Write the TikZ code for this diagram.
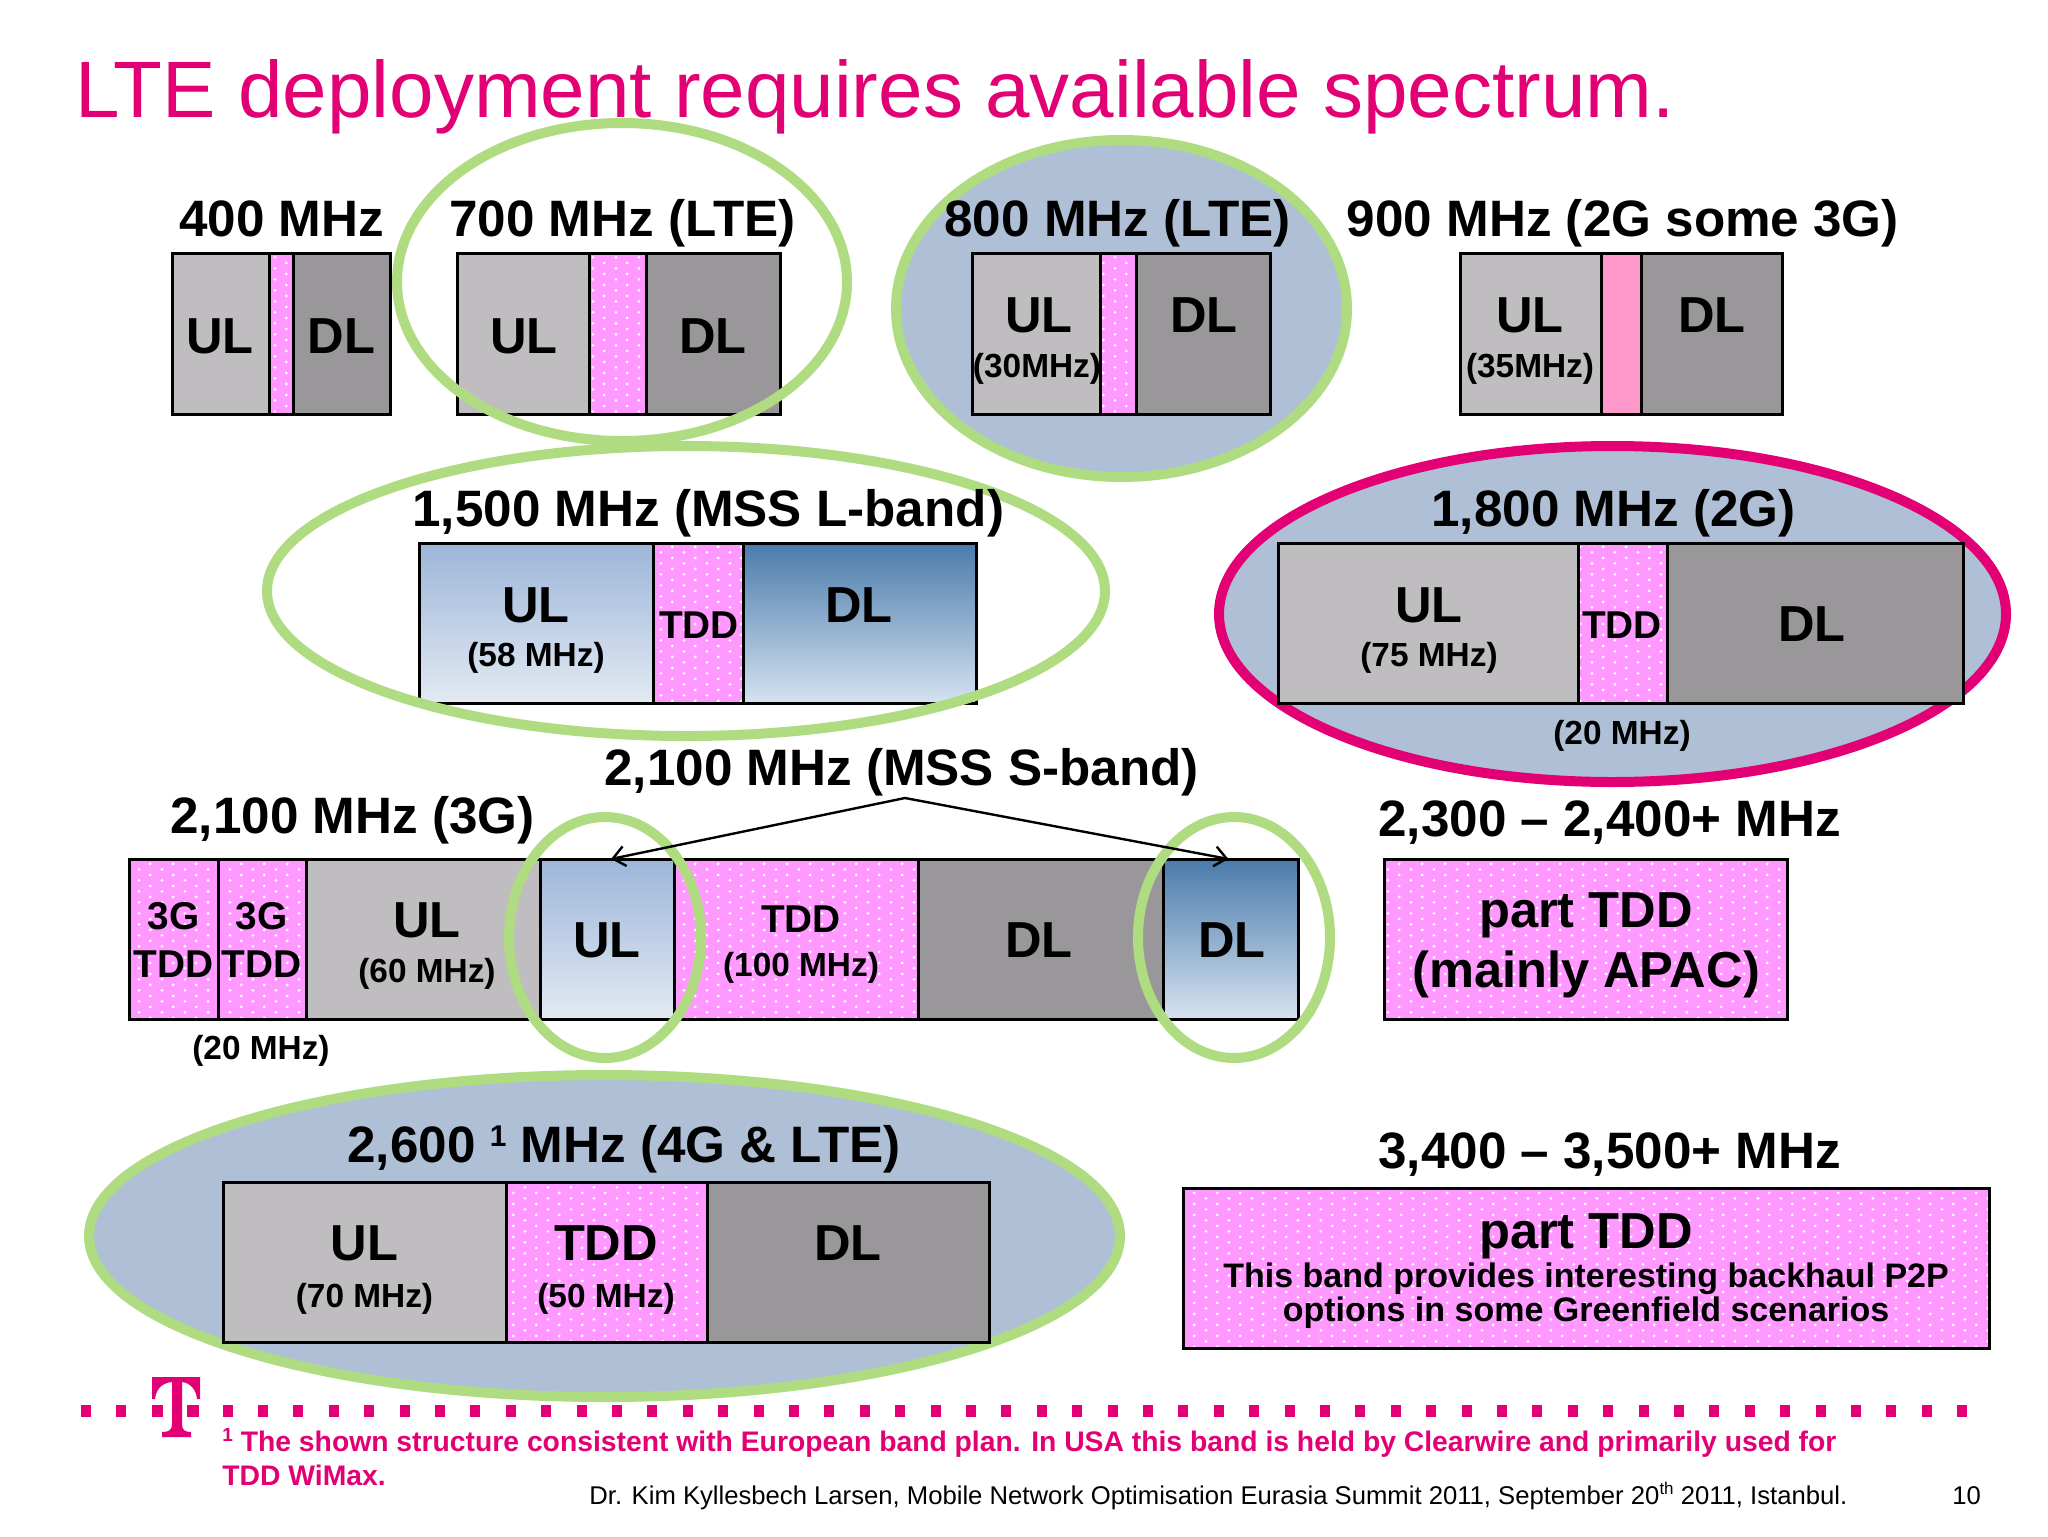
\documentclass[tikz,border=0pt]{standalone}
\usepackage{fontspec}
\setmainfont{Liberation Sans}
\usetikzlibrary{shapes.geometric,patterns,arrows.meta}
\definecolor{tmag}{HTML}{E20074}
\definecolor{ulgray}{HTML}{BFBDBF}
\definecolor{dlgray}{HTML}{999799}
\definecolor{tddpink}{HTML}{FF99FF}
\definecolor{gappink}{HTML}{FF99CC}
\definecolor{ringgreen}{HTML}{AFDC80}
\definecolor{ovalblue}{HTML}{AFBFD6}
\pgfdeclarepatternformonly{tdots}{\pgfqpoint{0pt}{0pt}}{\pgfqpoint{11.35pt}{5.67pt}}{\pgfqpoint{11.35pt}{5.67pt}}{%
  \pgfpathcircle{\pgfqpoint{1.5pt}{1.4pt}}{0.8pt}%
  \pgfpathcircle{\pgfqpoint{7.175pt}{4.235pt}}{0.8pt}%
  \pgfusepath{fill}}
\tikzset{
  seg/.style={shape=rectangle,inner sep=0pt,outer sep=0pt,draw=black,line width=1.5pt},
  ulb/.style={seg,fill=ulgray},
  dlb/.style={seg,fill=dlgray},
  tddb/.style={seg,fill=tddpink,postaction={pattern=tdots,pattern color=white},postaction={draw=black,line width=1.5pt}},
  gapb/.style={seg,fill=gappink},
  blueul/.style={seg,top color=blueA,bottom color=blueB},
  bluedl/.style={seg,top color=blueC,middle color=blueD,bottom color=blueE},
  ring/.style={shape=ellipse,inner sep=0pt,outer sep=0pt,draw=ringgreen,line width=5pt},
  oval/.style={ring,fill=ovalblue},
  magoval/.style={ring,draw=tmag,fill=ovalblue},
  head/.style={anchor=base west,inner sep=0pt,font=\bfseries\fontsize{25.6}{25.6}\selectfont},
  big/.style={anchor=base,inner sep=0pt,font=\bfseries\fontsize{25.3}{25.3}\selectfont},
  mid/.style={anchor=base,inner sep=0pt,font=\bfseries\fontsize{19.4}{19.4}\selectfont},
  small/.style={anchor=base,inner sep=0pt,font=\bfseries\fontsize{16.7}{16.7}\selectfont},
  para/.style={anchor=base,inner sep=0pt,font=\bfseries\fontsize{17}{17}\selectfont},
  note/.style={anchor=base west,inner sep=0pt,text=tmag,font=\bfseries\fontsize{14.15}{14.15}\selectfont},
  foot/.style={anchor=base west,inner sep=0pt,font=\fontsize{12.83}{12.83}\selectfont},
  arr/.style={-{Straight Barb[length=6pt,width=10pt]},line width=1.2pt}
}
\definecolor{blueA}{HTML}{9DB6D9}
\definecolor{blueB}{HTML}{E2EAF3}
\definecolor{blueC}{HTML}{4A7BAB}
\definecolor{blueD}{HTML}{A6BEDB}
\definecolor{blueE}{HTML}{D6E2F0}
% name, x1, y1, x2, y2, style
\newcommand\shapebox[6]{\node[#6,minimum width={(#4-#2)*0.5pt},minimum height={(#5-#3)*0.5pt}] (#1) at ({(#2+#4)/2},{(#3+#5)/2}) {};}
\begin{document}
\begin{tikzpicture}[x=0.5pt,y=-0.5pt]
\useasboundingbox (0,0) rectangle (2048,1536);
\fill[white] (0,0) rectangle (2048,1536);
% filled ovals behind the bands
\shapebox{o800}{896}{140}{1347}{477}{oval}
\shapebox{o1800}{1219}{446}{2006}{782}{magoval}
\shapebox{o2600}{89}{1075}{1120}{1397}{oval}
% 400
\shapebox{a1}{172}{253}{269}{414}{ulb}
\shapebox{a2}{269}{253}{293}{414}{tddb}
\shapebox{a3}{293}{253}{390}{414}{dlb}
% 700
\shapebox{b1}{457}{253}{589}{414}{ulb}
\shapebox{b2}{589}{253}{646}{414}{tddb}
\shapebox{b3}{646}{253}{780}{414}{dlb}
% 800
\shapebox{c1}{972}{253}{1100}{414}{ulb}
\shapebox{c2}{1100}{253}{1136}{414}{tddb}
\shapebox{c3}{1136}{253}{1270}{414}{dlb}
% 900
\shapebox{d1}{1460}{253}{1601}{414}{ulb}
\shapebox{d2}{1601}{253}{1641}{414}{gapb}
\shapebox{d3}{1641}{253}{1782}{414}{dlb}
% 1500
\shapebox{e1}{419}{543}{653}{703}{blueul}
\shapebox{e2}{653}{543}{743}{703}{tddb}
\shapebox{e3}{743}{543}{976}{703}{bluedl}
% 1800
\shapebox{f1}{1278}{543}{1578}{703}{ulb}
\shapebox{f2}{1578}{543}{1667}{703}{tddb}
\shapebox{f3}{1667}{543}{1963}{703}{dlb}
% 2100
\shapebox{g1}{129}{859}{218}{1019}{tddb}
\shapebox{g2}{218}{859}{306}{1019}{tddb}
\shapebox{g3}{306}{859}{540}{1019}{ulb}
\shapebox{g4}{540}{859}{674}{1019}{blueul}
\shapebox{g5}{674}{859}{918}{1019}{tddb}
\shapebox{g6}{918}{859}{1163}{1019}{dlb}
\shapebox{g7}{1163}{859}{1298}{1019}{bluedl}
% 2300
\shapebox{h1}{1384}{859}{1787}{1019}{tddb}
% 2600
\shapebox{i1}{223}{1182}{506}{1342}{ulb}
\shapebox{i2}{506}{1182}{707}{1342}{tddb}
\shapebox{i3}{707}{1182}{989}{1342}{dlb}
% 3400
\shapebox{j1}{1183}{1188}{1989}{1348}{tddb}
% outline rings over the bands
\shapebox{r700}{397}{123}{847}{441}{ring}
\shapebox{r1500}{267}{446}{1105}{736}{ring}
\shapebox{rul}{509}{817}{701}{1058}{ring}
\shapebox{rdl}{1138}{817}{1330}{1058}{ring}
% connector
\coordinate (apex) at (905,798);
\draw[arr] (apex) -- ([xshift=2pt]g4.north);
\draw[arr] (apex) -- ([xshift=-1pt]g7.north);
% title
\node[anchor=base west,inner sep=0pt,text=tmag,font=\fontsize{40}{40}\selectfont] (title) at (75,118) {LTE deployment requires available spectrum.};
% headings
\node[head] (t400) at (179,236.5) {400 MHz};
\node[head] (t700) at (449,236.5) {700 MHz (LTE)};
\node[head] (t800) at (944,236.5) {800 MHz (LTE)};
\node[head] (t900) at (1346.5,236.5) {900 MHz (2G some 3G)};
\node[head] (t1500) at (412,526) {1,500 MHz (MSS L-band)};
\node[head] (t1800) at (1431,526) {1,800 MHz (2G)};
\node[head] (t21a) at (604,785) {2,100 MHz (MSS S-band)};
\node[head] (t21b) at (170,833) {2,100 MHz (3G)};
\node[head] (t23) at (1378,836.5) {2,300 – 2,400+ MHz};
\node[head] (t34) at (1378,1168.5) {3,400 – 3,500+ MHz};
\node[head] (t26) at (347,1162) {2,600 \raisebox{2.7mm}{\bfseries\fontsize{15}{15}\selectfont 1} MHz (4G \& LTE)};
% band labels
\node[big] (la1) at (220,353) {UL};
\node[big] (la3) at (341.5,353) {DL};
\node[big] (lb1) at (524,353) {UL};
\node[big] (lb3) at (713,353) {DL};
\node[big] (lc1) at (1039,332) {UL};
\node[small] (lc1s) at (1037,377) {(30MHz)};
\node[big] (lc3) at (1204,332) {DL};
\node[big] (ld1) at (1530,332) {UL};
\node[small] (ld1s) at (1530,377) {(35MHz)};
\node[big] (ld3) at (1712,332) {DL};
\node[big] (le1) at (536,622) {UL};
\node[small] (le1s) at (536,666) {(58 MHz)};
\node[mid] (le2) at (699,638) {TDD};
\node[big] (le3) at (859,622) {DL};
\node[big] (lf1) at (1429,622) {UL};
\node[small] (lf1s) at (1429,666) {(75 MHz)};
\node[mid] (lf2) at (1622,638) {TDD};
\node[big] (lf3) at (1812,641.5) {DL};
\node[small] (lf2s) at (1622,744) {(20 MHz)};
\node[mid] (lg1a) at (173.5,929.5) {3G};
\node[mid] (lg1b) at (173.5,977.5) {TDD};
\node[mid] (lg2a) at (261.5,929.5) {3G};
\node[mid] (lg2b) at (261.5,977.5) {TDD};
\node[small] (lg2s) at (261,1059) {(20 MHz)};
\node[big] (lg3) at (427,937) {UL};
\node[small] (lg3s) at (427,982) {(60 MHz)};
\node[big] (lg4) at (607,957.5) {UL};
\node[mid] (lg5) at (801,932) {TDD};
\node[small] (lg5s) at (801,976) {(100 MHz)};
\node[big] (lg6) at (1039,957.5) {DL};
\node[big] (lg7) at (1232,957.5) {DL};
\node[big] (lh1) at (1586,927) {part TDD};
\node[big] (lh2) at (1586,987) {(mainly APAC)};
\node[big] (li1) at (364.5,1260) {UL};
\node[small] (li1s) at (364.5,1307) {(70 MHz)};
\node[big] (li2) at (606,1260) {TDD};
\node[small] (li2s) at (606,1307) {(50 MHz)};
\node[big] (li3) at (848,1260) {DL};
\node[big] (lj1) at (1586,1248) {part TDD};
\node[para] (lj2) at (1586,1287) {This band provides interesting backhaul P2P};
\node[para] (lj3) at (1586,1321) {options in some Greenfield scenarios};
% dotted line and T logo
\foreach \i in {0,...,53} {
  \pgfmathsetmacro\sx{86+35.4*\i}
  \fill[tmag] ({\sx-5},1405) rectangle ({\sx+5},1417);
}
\fill[tmag] (152,1377) -- (200,1377) -- (200,1399) -- (197,1399)
  .. controls (196,1390) and (191,1383) .. (182,1382) -- (182,1424)
  .. controls (182,1430) and (185,1432) .. (191,1432) -- (191,1437) -- (162,1437) -- (162,1432)
  .. controls (169,1432) and (172,1430) .. (172,1424) -- (172,1382)
  .. controls (161,1383) and (156,1390) .. (155,1399) -- (152,1399) -- cycle;
\fill[tmag] (152,1405) rectangle (163,1417);
\fill[tmag] (187,1405) rectangle (199,1417);
% footnote and footer
\node[note] (n1) at (222,1451) {\raisebox{1.6mm}{\bfseries\fontsize{9.5}{9.5}\selectfont 1} The shown structure consistent with European band plan. In USA this band is held by Clearwire and primarily used for};
\node[note] (n2) at (222,1485) {TDD WiMax.};
\node[foot] (f1) at (589,1504) {Dr. Kim Kyllesbech Larsen, Mobile Network Optimisation Eurasia Summit 2011, September 20\raisebox{1.6mm}{\fontsize{8.5}{8.5}\selectfont th} 2011, Istanbul.};
\node[foot] (f2) at (1952,1504) {10};
\end{tikzpicture}
\end{document}
